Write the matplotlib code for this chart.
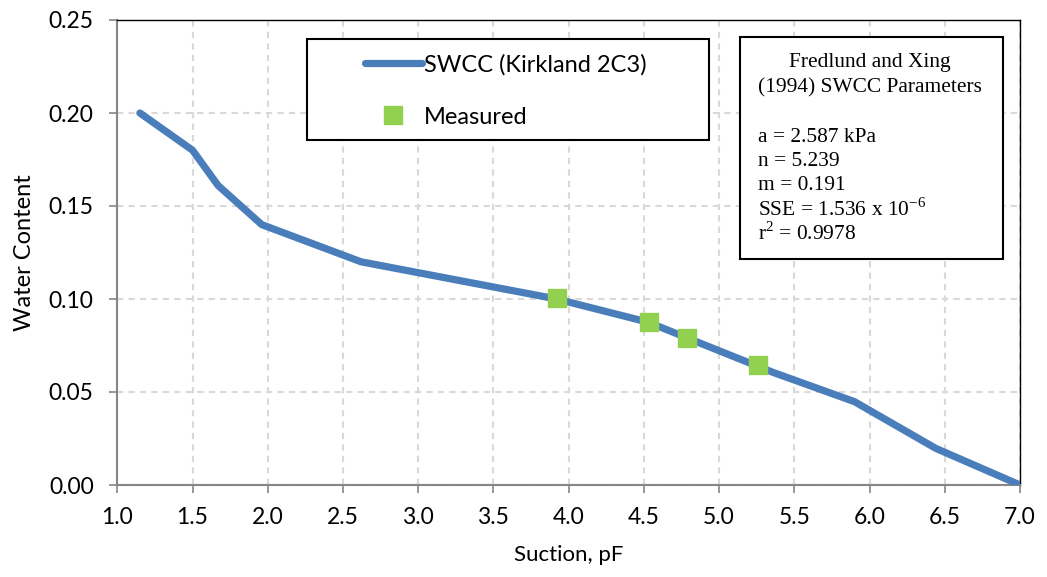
"""SWCC curve for Kirkland 2C3 with measured points and Fredlund & Xing parameters."""

import matplotlib

matplotlib.use("Agg")
import matplotlib.pyplot as plt
from matplotlib.patches import Rectangle

# fitted curve
suction_fit = [1.15, 1.50, 1.67, 1.96, 2.62, 3.92, 4.53, 4.79, 5.36, 5.90, 6.44, 7.00]
water_fit = [0.200, 0.180, 0.161, 0.140, 0.120, 0.100, 0.0875, 0.079, 0.0605, 0.0448, 0.0197, 0.0]

# measured points
suction_meas = [3.92, 4.535, 4.787, 5.259]
water_meas = [0.1004, 0.0875, 0.0789, 0.0643]

x_ticks = [1.0, 1.5, 2.0, 2.5, 3.0, 3.5, 4.0, 4.5, 5.0, 5.5, 6.0, 6.5, 7.0]
y_ticks = [0.00, 0.05, 0.10, 0.15, 0.20, 0.25]

params_title = ["Fredlund and Xing", "(1994) SWCC Parameters"]
params_body = ["a = 2.587 kPa", "n = 5.239", "m = 0.191",
               r"SSE = 1.536 x 10$^{\mathregular{-6}}$", r"r$^{\mathregular{2}}$ = 0.9978"]

BLUE = "#4A7EBB"
GREEN = "#92D050"
GRAY = "#868686"

plt.rcParams["font.family"] = ["Lato", "DejaVu Sans"]
plt.rcParams["mathtext.fontset"] = "custom"
plt.rcParams["mathtext.rm"] = "Liberation Serif"

W, H = 1047, 577
fig = plt.figure(figsize=(W / 100, H / 100), dpi=100)
ax = fig.add_axes([117.3 / W, 1 - 485 / H, (1020 - 117.3) / W, (485 - 20) / H])

ax.plot(suction_fit, water_fit, color=BLUE, lw=5.2, solid_capstyle="round",
        solid_joinstyle="round", label="SWCC (Kirkland 2C3)", zorder=3)
ax.plot(suction_meas, water_meas, ls="none", marker="s", ms=13.5, color=GREEN,
        mec=GREEN, label="Measured", zorder=4)

ax.set_xlim(1.0, 7.0)
ax.set_ylim(0.0, 0.25)
ax.set_xticks(x_ticks)
ax.set_yticks(y_ticks)
ax.set_xticklabels([f"{v:.1f}" for v in x_ticks])
ax.set_yticklabels([f"{v:.2f}" for v in y_ticks])
ax.tick_params(axis="both", direction="out", length=6, width=1.2, color=GRAY,
               labelsize=16.5)
ax.tick_params(axis="x", pad=10)
ax.tick_params(axis="y", pad=11)
ax.grid(True, color="#D9D9D9", lw=1.5, ls=(0, (3, 2.5)))
ax.set_axisbelow(True)
for side in ("left", "bottom"):
    ax.spines[side].set_color(GRAY)
    ax.spines[side].set_linewidth(1.5)
for side in ("top", "right"):
    ax.spines[side].set_color("black")
    ax.spines[side].set_linewidth(1.0)

ax.set_xlabel("Suction, pF", fontsize=16, labelpad=12)
ax.set_ylabel("Water Content", fontsize=17, labelpad=10)

fig_tr = fig.transFigure

# legend: frame drawn separately so it can be wider than its content
ax.add_patch(Rectangle((307 / W, 1 - 140 / H), (709 - 307) / W, (140 - 39) / H,
                       transform=fig_tr, clip_on=False, fc="white",
                       ec="black", lw=1.5, zorder=5))
leg = ax.legend(loc="upper left", bbox_to_anchor=(365 / W, 1 - 54 / H),
                bbox_transform=fig_tr, frameon=False, fontsize=17,
                borderpad=0, borderaxespad=0, handlelength=2.4,
                handletextpad=0.1, labelspacing=1.32)
leg.set_zorder(6)

# parameter box
ax.add_patch(Rectangle((740 / W, 1 - 259 / H), (1003 - 740) / W, (259 - 37) / H,
                       transform=fig_tr, clip_on=False, fc="white",
                       ec="black", lw=1.5, zorder=5))
for txt, yc in zip(params_title, [63, 88]):
    ax.text(870 / W, 1 - yc / H, txt, ha="center", va="center", transform=fig_tr,
            family="Liberation Serif", fontsize=15.4, zorder=7)
for txt, yc in zip(params_body, [137, 161, 185, 210, 234]):
    ax.text(758 / W, 1 - yc / H, txt, ha="left", va="center", transform=fig_tr,
            family="Liberation Serif", fontsize=15.4, zorder=7)

fig.savefig("out.png", dpi=100)
